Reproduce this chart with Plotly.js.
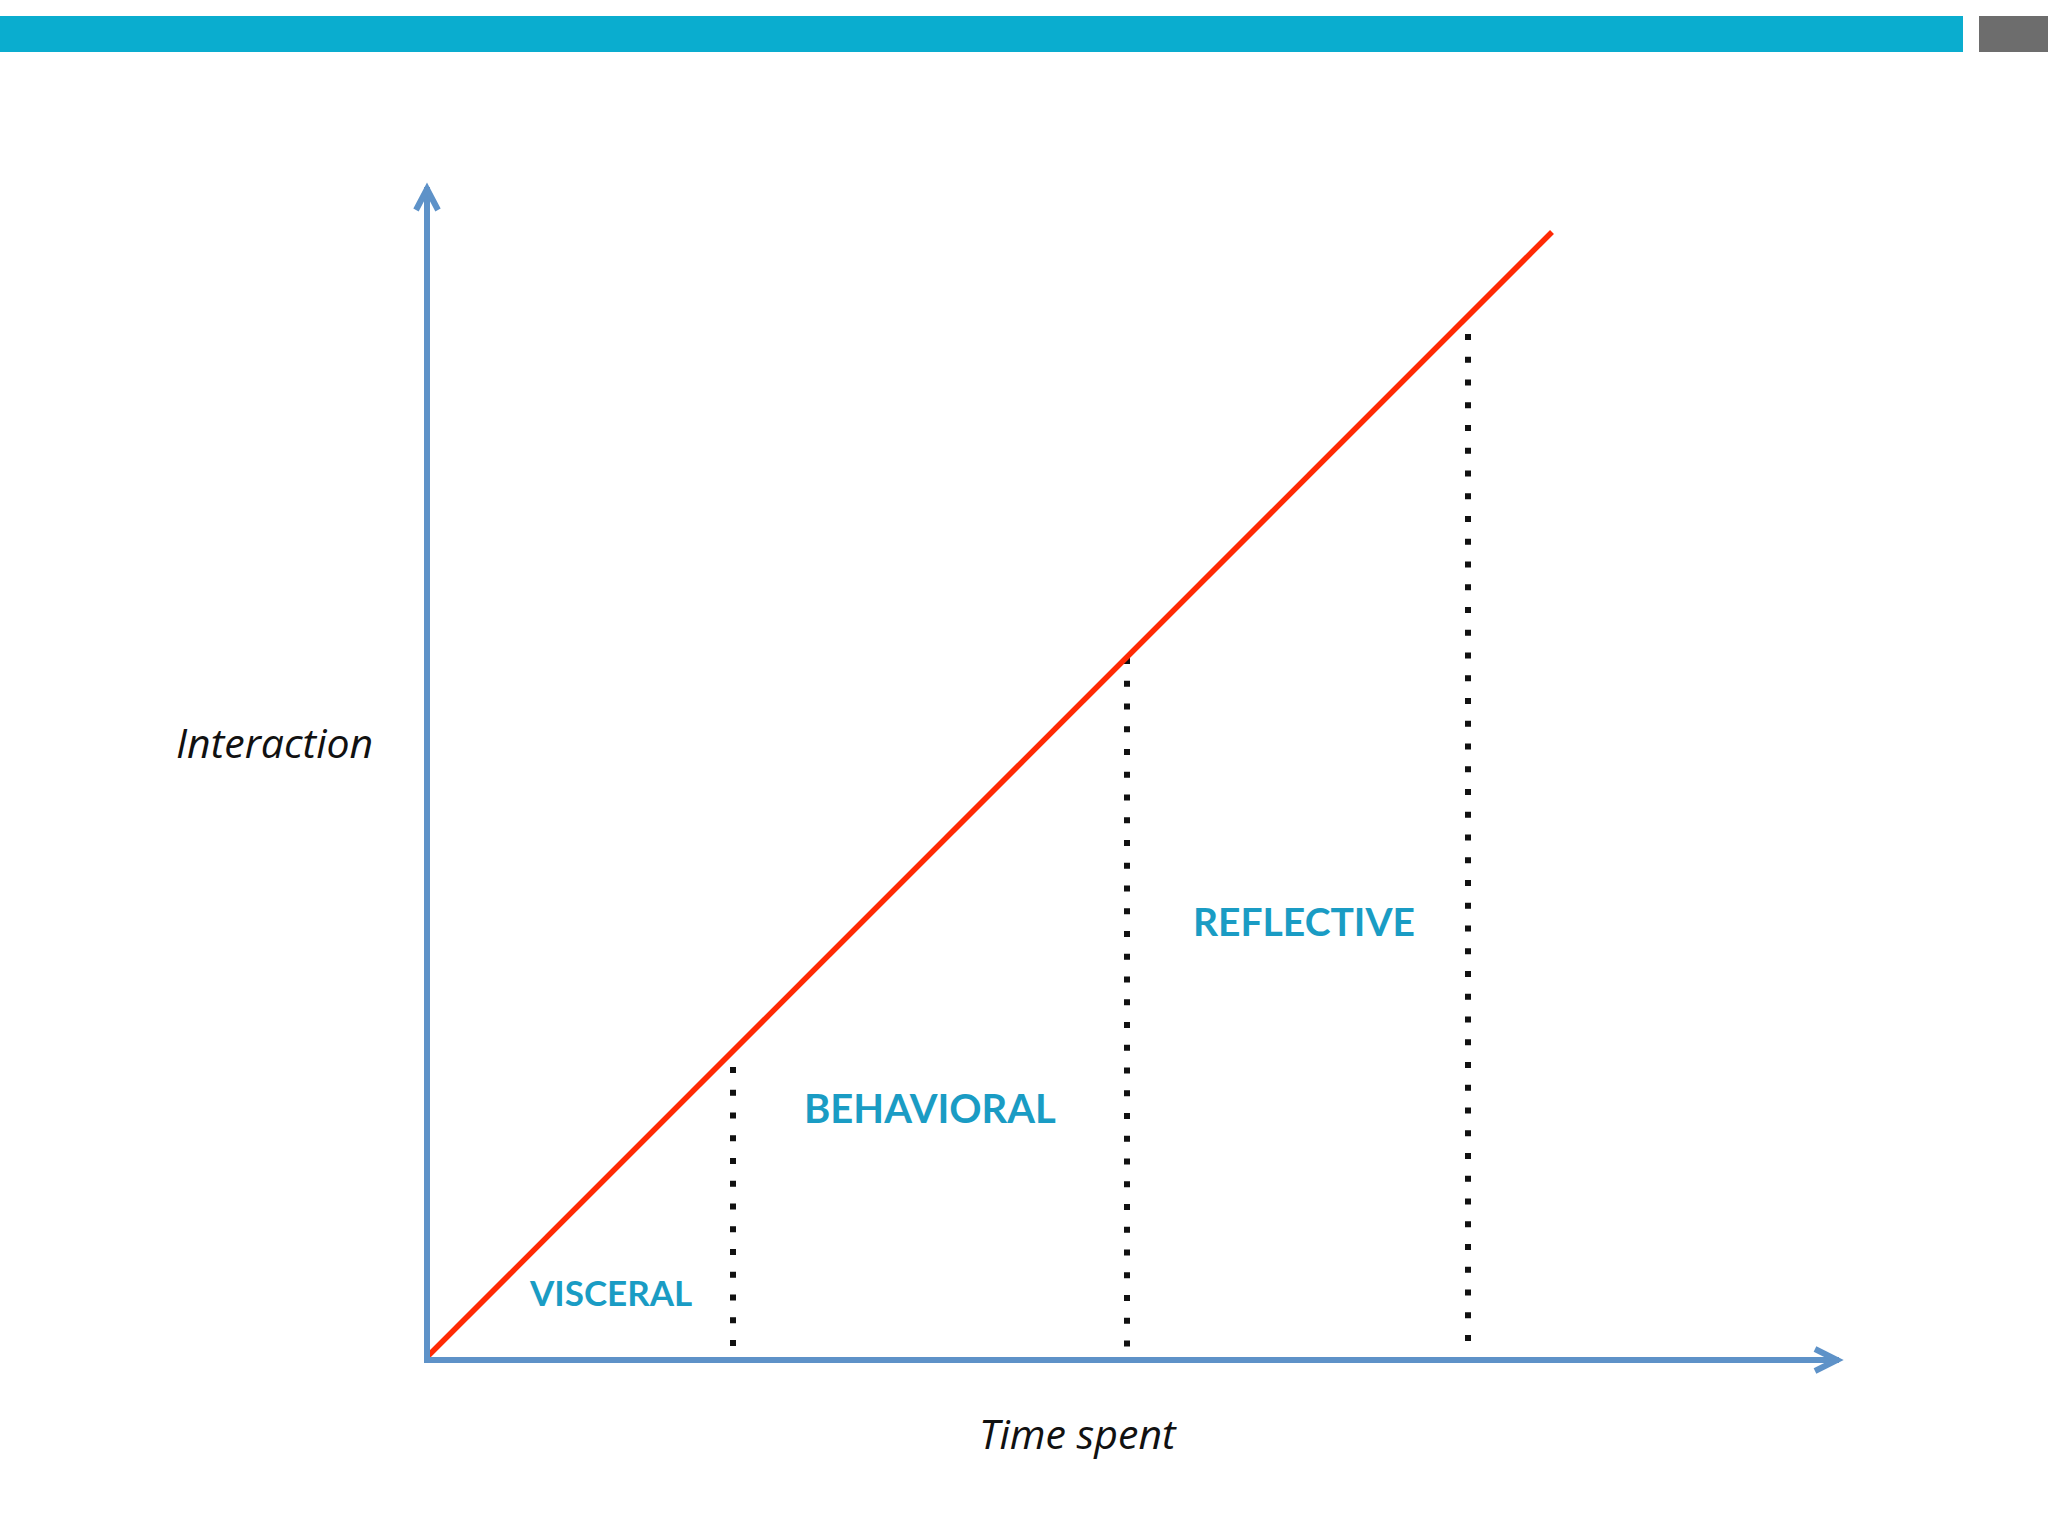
<!DOCTYPE html>
<html>
<head>
<meta charset="utf-8">
<script src="https://cdn.plot.ly/plotly-3.0.1.min.js"></script>
<style>
  html, body { margin: 0; padding: 0; background: #ffffff; }
  #chart { width: 2048px; height: 1536px; }
</style>
</head>
<body>
<div id="chart"></div>
<script>
// ---- data ----
const timeSpent = [0, 11.25];          // red line x
const interaction = [0.03, 11.28];     // red line y
const phases = ['VISCERAL', 'BEHAVIORAL', 'REFLECTIVE'];
const boundaryX = [3.06, 7.00, 10.41];
const boundaryTop = [2.93, 7.02, 10.26];
const boundaryBottom = [0.11, 0.12, 0.17];
const axisEndX = 14.16;
const axisEndY = 11.77;
const xTitle = 'Time spent';
const yTitle = 'Interaction';

// ---- layout helpers ----
const W = 2048, H = 1536;
const M = { l: 377, r: 155, t: 133, b: 126 };
const PW = W - M.l - M.r, PH = H - M.t - M.b;
const px2x = px => (px - M.l) / PW;
const py2y = py => (H - M.b - py) / PH;

const labelPos = [[1.83, 0.68], [5.03, 2.52], [8.77, 4.39]];
const labelSize = [35, 40, 39];

const axisColor = '#5E92C8';
const labelColor = '#1A9CC4';

const traces = [];
// boundaries (dotted)
boundaryX.forEach((bx, i) => {
  traces.push({
    type: 'scatter', mode: 'lines',
    x: [bx, bx], y: [boundaryTop[i], boundaryBottom[i]],
    line: { color: '#111111', width: 6, dash: '6px,16.75px' },
    hoverinfo: 'skip', showlegend: false
  });
});
// red line
traces.push({
  type: 'scatter', mode: 'lines',
  x: timeSpent, y: interaction,
  line: { color: '#FF2A05', width: 5.5 },
  hoverinfo: 'skip', showlegend: false
});

const shapes = [
  // top bars
  { type: 'rect', xref: 'paper', yref: 'paper', x0: px2x(-10), x1: px2x(1963), y0: py2y(52), y1: py2y(16),
    fillcolor: '#0AADCF', line: { width: 0 }, layer: 'below' },
  { type: 'rect', xref: 'paper', yref: 'paper', x0: px2x(1979), x1: px2x(2060), y0: py2y(52), y1: py2y(16),
    fillcolor: '#6D6D6D', line: { width: 0 }, layer: 'below' },
  // axes
  { type: 'line', xref: 'x', yref: 'y', x0: 0, x1: 0, y0: -0.02, y1: axisEndY - 0.04,
    line: { color: axisColor, width: 6 } },
  { type: 'line', xref: 'x', yref: 'y', x0: -0.03, x1: axisEndX - 0.04, y0: 0, y1: 0,
    line: { color: axisColor, width: 6 } },
  // arrow heads
  { type: 'path', xref: 'x', yref: 'y', xsizemode: 'pixel', ysizemode: 'pixel',
    xanchor: 0, yanchor: axisEndY, path: 'M -11,-27 L 0,-6 L 11,-27',
    line: { color: axisColor, width: 6 } },
  { type: 'path', xref: 'x', yref: 'y', xsizemode: 'pixel', ysizemode: 'pixel',
    xanchor: axisEndX, yanchor: 0, path: 'M -28,11 L -6,0 L -28,-11',
    line: { color: axisColor, width: 6 } }
];

const annotations = [
  { xref: 'paper', yref: 'paper', x: px2x(274), y: py2y(742), text: yTitle, showarrow: false,
    xanchor: 'center', yanchor: 'middle',
    font: { family: 'Open Sans', size: 41, style: 'italic', color: '#111111' } },
  { xref: 'paper', yref: 'paper', x: px2x(1078), y: py2y(1433), text: xTitle, showarrow: false,
    xanchor: 'center', yanchor: 'middle',
    font: { family: 'Open Sans', size: 41, style: 'italic', color: '#111111' } }
];
phases.forEach((p, i) => {
  annotations.push({
    xref: 'x', yref: 'y', x: labelPos[i][0], y: labelPos[i][1], text: p, showarrow: false,
    xanchor: 'center', yanchor: 'middle',
    font: { family: 'Lato', size: labelSize[i], weight: 'bold', color: labelColor }
  });
});

const layout = {
  width: W, height: H,
  margin: M,
  paper_bgcolor: '#ffffff', plot_bgcolor: '#ffffff',
  showlegend: false, hovermode: false,
  xaxis: { range: [-0.5, -0.5 + PW / 100], visible: false, fixedrange: true },
  yaxis: { range: [-0.5, -0.5 + PH / 100], visible: false, fixedrange: true },
  shapes: shapes,
  annotations: annotations
};

Plotly.newPlot('chart', traces, layout, { staticPlot: true, displayModeBar: false });
</script>
</body>
</html>
